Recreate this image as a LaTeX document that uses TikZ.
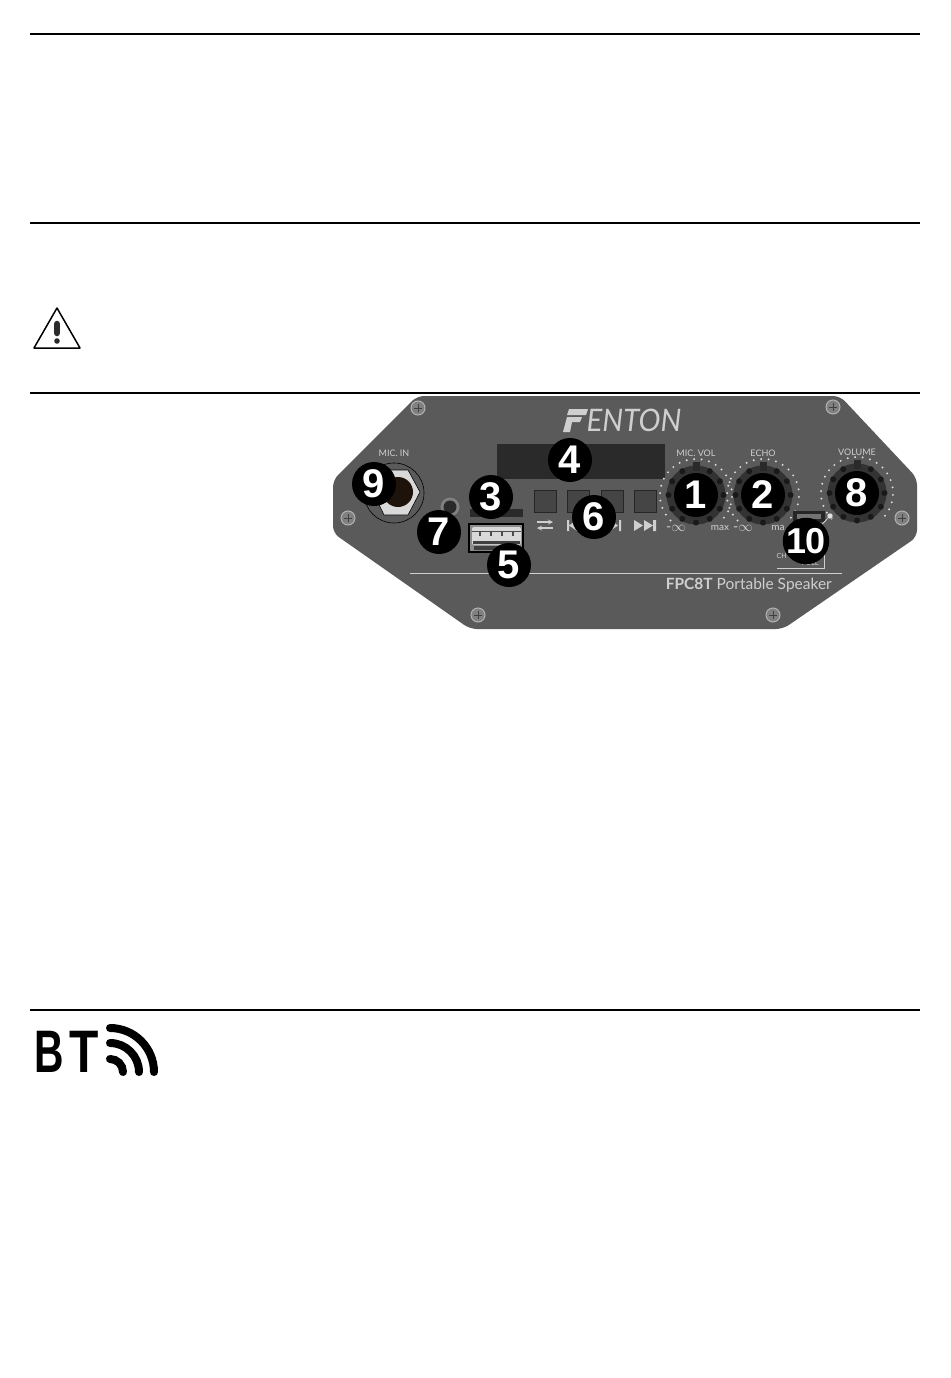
\documentclass[tikz,border=0pt]{standalone}
\usepackage{fontspec}
\setmainfont{Liberation Sans}
\newfontfamily\panelfont{Lato}
\definecolor{panelgrey}{HTML}{5A5A5A}
\definecolor{paneltext}{HTML}{CFCFCF}
\definecolor{darkpart}{HTML}{2A2A2A}
\definecolor{keygrey}{HTML}{454545}
\tikzset{
	badge/.style={circle,fill=black,text=white,minimum size=44pt,inner sep=0pt,font=\fontsize{40}{40}\selectfont\bfseries},
	rule/.style={line width=1.2pt,black},
	paneltxt/.style={text=paneltext,inner sep=0pt,font=\panelfont\fontsize{9}{9}\selectfont},
	screw/.style={circle,draw=black!30,line width=1pt,fill=black!50,minimum size=14pt,inner sep=0pt},
	keybox/.style={draw=black!85,line width=0.8pt,fill=keygrey}
}
\begin{document}
\begin{tikzpicture}[x=1pt,y=-1pt]
	\useasboundingbox (0,0) rectangle (950,1378);
	% page rules
	\foreach \y in {34,223,393,1010}{
		\draw[rule] (30,\y)--(920,\y);
	}
	% warning sign
	\draw[line width=1.5pt,line join=round] (57,308)--(80,348)--(34,348)--cycle;
	\draw[darkpart,line width=6.5pt,line cap=round] (57,324)--(57,333);
	\fill[darkpart] (57,341)circle(2.8);
	% panel
	\fill[panelgrey,rounded corners=7pt] (417,396)--(840,396)--(917,478)--(917,537)--(783,629)--(470,629)--(333,533)--(333,480)--cycle;
	\draw[paneltext,line width=0.7pt] (410,573)--(842,573);
	\foreach \x/\y/\n in {418/408/a,833/407/b,348/518/c,902/518/d,478/615/e,773/615/f}{
		\node[screw] (screw\n) at (\x,\y) {};
		\draw[black!75,line width=0.8pt] (\x-4,\y)--(\x+4,\y) (\x,\y-4)--(\x,\y+4);
	}
	\node[xscale=0.95,text=paneltext,inner sep=0pt,font=\panelfont\itshape\fontsize{31}{31}\selectfont] (brand) at (634,420) {ENTON};
	\fill[paneltext] (569,409)--(588,409)--(586,415)--(567,415)--cycle;
	\fill[paneltext] (567,417)--(582,417)--(580,422)--(572,422)--(570,432)--(563,432)--cycle;
	\node[text=paneltext,inner sep=0pt,anchor=east,font=\panelfont\fontsize{15.5}{15.5}\selectfont] (model) at (832,585) {\textbf{FPC8T} Portable Speaker};
	% display and keys
	\fill[darkpart] (497,444) rectangle (665,479);
	\foreach \x in {534,567,601,634}{
		\draw[keybox] (\x,490) rectangle ++(22,22);
	}
	\draw[paneltext,line width=1.2pt,->,>=stealth] (537,522)--(553,522);
	\draw[paneltext,line width=1.2pt,<-,>=stealth] (537,528)--(553,528);
	\fill[paneltext] (567,520) rectangle (569,531) (569,525.5)--(577,520)--(577,531)--cycle;
	\fill[paneltext] (610,520)--(618,525.5)--(610,531)--cycle (619,520) rectangle (621,531);
	\fill[paneltext] (634,520)--(643,525.5)--(634,531)--cycle (644,520)--(653,525.5)--(644,531)--cycle (653,520) rectangle (656,531);
	% mic input
	\draw[black,line width=0.6pt] (394,493)circle(30);
	\fill[black!15,draw=black,line width=0.6pt] (420,492)--(408,470)--(384,470)--(373,492)--(384,515)--(408,515)--cycle;
	\fill[black!85!brown] (398,492)circle(15);
	\node[paneltxt] (micin) at (394,453) {MIC. IN};
	% aux jack
	\fill[black!50,draw=black!70] (450,507)circle(10);
	\fill[darkpart] (450,507)circle(6.5);
	% card slot and usb
	\fill[darkpart] (470,509) rectangle (523,517);
	\draw[black,line width=1.2pt,fill=black!45] (469,524) rectangle (523,552);
	\fill[black!15,rounded corners=2pt] (472,527) rectangle (521,545);
	\fill[black!75] (473,541) rectangle (520,544) (474,546) rectangle (518,550);
	\draw[black!70,line width=0.8pt] (472,531)--(521,531);
	\foreach \x in {480,491,502,513}{
		\draw[black!70,line width=1.4pt] (\x,531)--(\x,536);
	}
	% knobs
	\foreach \kx/\ky in {696/495,763/495,857/493}{
		\foreach \a in {135,147,...,405}{
			\fill[black!15] ({\kx+36*cos(\a)},{\ky+36*sin(\a)})circle(1.1);
		}
		\fill[black!80] (\kx,\ky)circle(29.5);
		\foreach \a in {0,30,...,330}{
			\fill[black!90] ({\kx+27.5*cos(\a)},{\ky+27.5*sin(\a)})circle(3);
		}
		\fill[darkpart] (\kx-3.5,\ky-33) rectangle (\kx+3.5,\ky-24);
	}
	\node[paneltxt] (micvol) at (696,453) {MIC. VOL};
	\node[paneltxt] (echo) at (763,453) {ECHO};
	\node[paneltxt] (volume) at (857,452) {VOLUME};
	\foreach \x/\t/\s/\n in {676/-$\infty$/14/a,720/max/10/b,743/-$\infty$/14/c,778/ma/10/d}{
		\node[paneltxt,font=\panelfont\fontsize{\s}{\s}\selectfont] (scale\n) at (\x,528) {\t};
	}
	% charge part
	\fill[black!85] (793,511) rectangle (825,522);
	\fill[black!55] (797,514) rectangle (821,519);
	\node[circle,fill=black!12,draw=black!60,minimum size=6pt,inner sep=0pt] (led) at (830,516) {};
	\coordinate (tick) at (824,550);
	\draw[paneltext,line width=0.9pt] (777,568)--(824,568)--(tick);
	\node[paneltxt,anchor=west,font=\panelfont\fontsize{7}{7}\selectfont] (charge) at (776.5,556) {CH};
	\node[paneltxt,font=\panelfont\fontsize{7.5}{7.5}\selectfont] (full) at (810,563) {FULL};
	\node[badge,font=\fontsize{36}{36}\selectfont\bfseries] (ten) at (806,541) {1\kern-1pt 0};
	\draw[black!15,line width=0.8pt] (ten)--(led);
	% number badges
	\foreach \x/\y/\t in {696/495/1,763/495/2,491/497/3,570/460/4,509/565/5,594/517/6,439/532/7,857/493/8,374/484/9}{
		\node[badge] (b\t) at (\x,\y) {\t};
	}
	% bluetooth mark
	\node[xscale=0.68,inner sep=0pt,anchor=base west,font=\fontsize{60}{60}\selectfont\bfseries] (bt) at (34,1072) {B};
	\node[xscale=0.8,inner sep=0pt,anchor=base west,font=\fontsize{60}{60}\selectfont\bfseries] (bt2) at (69.5,1072) {T};
	\foreach \r in {13,29,44}{
		\draw[line width=8pt,line cap=round] (110,{1072-\r}) arc[start angle=90,end angle=0,radius=\r pt];
	}
\end{tikzpicture}
\end{document}
